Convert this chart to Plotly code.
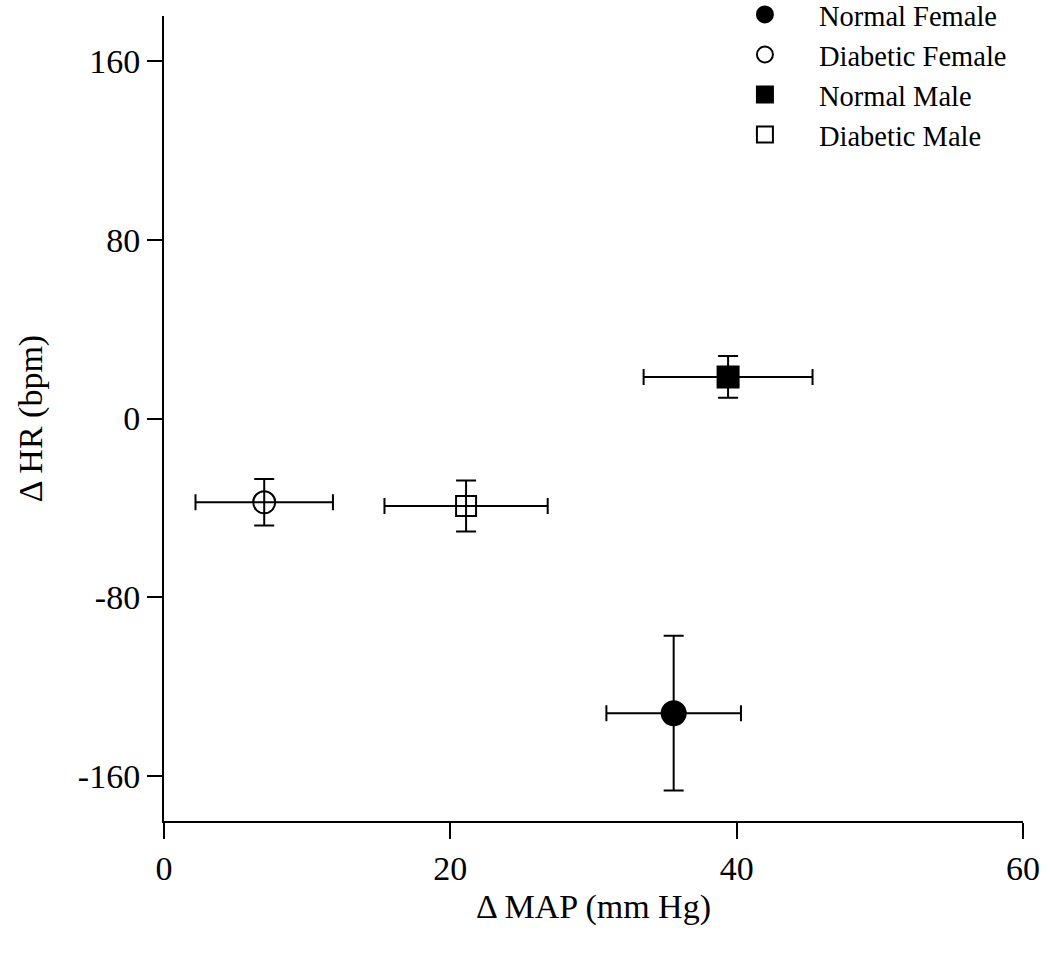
import plotly.graph_objects as go

# Group means and errors: change in MAP (mm Hg) vs change in HR (bpm)
groups = ["Normal Female", "Diabetic Female", "Normal Male", "Diabetic Male"]
map_mean = [35.6, 7.0, 39.4, 21.1]
map_err = [4.7, 4.8, 5.9, 5.7]
hr_mean = [-131.8, -37.5, 18.6, -39.1]
hr_err = [34.6, 10.4, 9.3, 11.4]

symbols = ["circle", "circle-open", "square", "square-open"]
sizes = [24, 22, 21, 20]

x_ticks = [0, 20, 40, 60]
y_ticks = [-160, -80, 0, 80, 160]

FONT = "Liberation Serif"

fig = go.Figure()
for i, name in enumerate(groups):
    fig.add_trace(go.Scatter(
        x=[map_mean[i]], y=[hr_mean[i]],
        mode="markers",
        name=name,
        marker=dict(symbol=symbols[i], size=sizes[i], color="black",
                    line=dict(color="black", width=2)),
        error_x=dict(type="data", array=[map_err[i]], color="black",
                     thickness=2, width=8),
        error_y=dict(type="data", array=[hr_err[i]], color="black",
                     thickness=2, width=10),
    ))

fig.update_layout(
    width=1052, height=954,
    margin=dict(l=164, r=29, t=16, b=133, autoexpand=False),
    paper_bgcolor="white", plot_bgcolor="white",
    font=dict(family=FONT, size=34, color="black"),
    showlegend=True,
    legend=dict(
        x=0.6367, y=1.033, xanchor="left", yanchor="top",
        font=dict(family=FONT, size=28.5, color="black"),
        bgcolor="rgba(0,0,0,0)", borderwidth=0,
        itemwidth=98, tracegroupgap=0,
    ),
    xaxis=dict(
        range=[0, 60], tickvals=x_ticks, ticktext=[str(v) for v in x_ticks],
        showgrid=False, zeroline=False, showline=True, linecolor="black",
        linewidth=2, ticks="outside", ticklen=16, tickwidth=2,
        tickcolor="black", automargin=False,
        tickfont=dict(family=FONT, size=34),
        title=dict(text="Δ MAP (mm Hg)", standoff=8,
                   font=dict(family=FONT, size=34)),
    ),
    yaxis=dict(
        range=[-180, 180], tickvals=y_ticks, ticktext=[str(v) for v in y_ticks],
        showgrid=False, zeroline=False, showline=True, linecolor="black",
        linewidth=2, ticks="outside", ticklen=15, tickwidth=2,
        tickcolor="black", automargin=False,
        tickfont=dict(family=FONT, size=34),
        title=dict(text="Δ HR (bpm)", standoff=25,
                   font=dict(family=FONT, size=34)),
    ),
)

fig.write_html("out.html")
